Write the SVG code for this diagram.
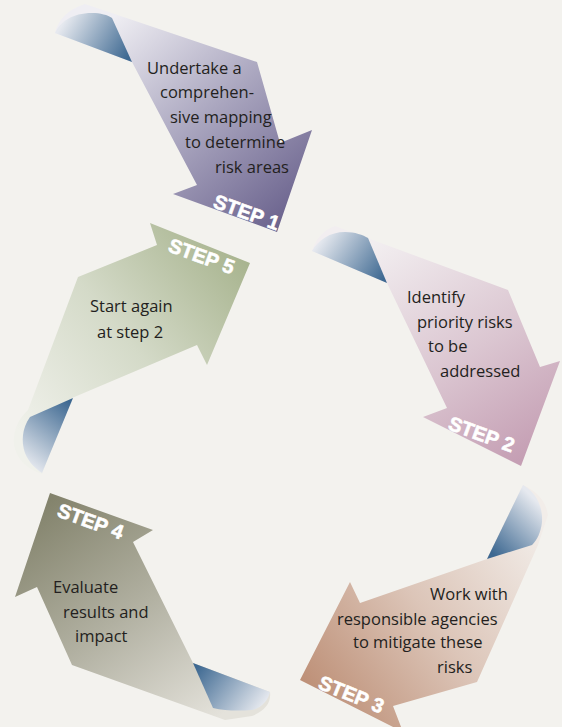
<svg xmlns="http://www.w3.org/2000/svg" width="562" height="727" viewBox="0 0 562 727">
<defs>
<style>
.body-text{font-family:"Open Sans","Liberation Sans",sans-serif;font-size:16.5px;fill:#231f20}
.step{font-family:"Liberation Sans","Open Sans",sans-serif;font-size:20px;font-weight:bold;fill:#ffffff;stroke:#ffffff;stroke-width:0.6}
</style>
<linearGradient id="g1" gradientUnits="userSpaceOnUse" x1="110" y1="20" x2="285" y2="225"><stop offset="0" stop-color="#efeef3"/><stop offset="0.5" stop-color="#aaa6bf"/><stop offset="1" stop-color="#6a628d"/></linearGradient>
<linearGradient id="g2" gradientUnits="userSpaceOnUse" x1="380" y1="240" x2="520" y2="460"><stop offset="0" stop-color="#f2eef0"/><stop offset="0.55" stop-color="#dbc6d1"/><stop offset="1" stop-color="#c59fb4"/></linearGradient>
<linearGradient id="g3" gradientUnits="userSpaceOnUse" x1="535" y1="520" x2="305" y2="690"><stop offset="0" stop-color="#f2ede9"/><stop offset="0.5" stop-color="#dcc5b8"/><stop offset="1" stop-color="#bd8f76"/></linearGradient>
<linearGradient id="g4" gradientUnits="userSpaceOnUse" x1="55" y1="495" x2="215" y2="720"><stop offset="0" stop-color="#83836c"/><stop offset="0.5" stop-color="#b1b0a1"/><stop offset="1" stop-color="#e4e2db"/></linearGradient>
<linearGradient id="g5" gradientUnits="userSpaceOnUse" x1="30" y1="445" x2="250" y2="265"><stop offset="0" stop-color="#f0f1eb"/><stop offset="0.5" stop-color="#d4dac8"/><stop offset="1" stop-color="#a8b48f"/></linearGradient>
<linearGradient id="c1" gradientUnits="userSpaceOnUse" x1="65" y1="20" x2="128" y2="58"><stop offset="0" stop-color="#e6e9ef"/><stop offset="1" stop-color="#3d6891"/></linearGradient>
<linearGradient id="c2" gradientUnits="userSpaceOnUse" x1="322" y1="238" x2="383" y2="280"><stop offset="0" stop-color="#e6e9ef"/><stop offset="1" stop-color="#3d6891"/></linearGradient>
<linearGradient id="c3" gradientUnits="userSpaceOnUse" x1="540" y1="505" x2="492" y2="553"><stop offset="0" stop-color="#e6e9ef"/><stop offset="1" stop-color="#3d6891"/></linearGradient>
<linearGradient id="c4" gradientUnits="userSpaceOnUse" x1="197" y1="666" x2="258" y2="712"><stop offset="0" stop-color="#3d6891"/><stop offset="1" stop-color="#e6e9ef"/></linearGradient>
<linearGradient id="c5" gradientUnits="userSpaceOnUse" x1="70" y1="402" x2="24" y2="462"><stop offset="0" stop-color="#3d6891"/><stop offset="1" stop-color="#e6e9ef"/></linearGradient>
</defs>
<rect width="562" height="727" fill="#f3f2ee"/>
<g id="connectors"/>
<g id="step1">
<path d="M55,33 Q60,12 85,4 L257,62 L280,143 L312,130 L277,232 L173,194 L197,185 L132,62 Z" fill="url(#g1)"/>
<path d="M55,33 C60,22 72,13 92,13 C100,13 108,15 112,18 L132,62 Z" fill="url(#c1)"/>
<text class="body-text" x="147" y="74">Undertake a</text>
<text class="body-text" x="160" y="98">comprehen-</text>
<text class="body-text" x="170" y="123">sive mapping</text>
<text class="body-text" x="185" y="148">to determine</text>
<text class="body-text" x="215" y="173">risk areas</text>
<text class="step" transform="translate(212,207) rotate(20)">STEP 1</text>
</g>
<g id="step2">
<path d="M312,251 Q318,232 335,226 L508,290 L540,367 L560,361 L521,466 L423,417 L447,408 L387,283 Z" fill="url(#g2)"/>
<path d="M312,251 C318,240 330,232 345,232 C355,232 363,235 368,238 L387,283 Z" fill="url(#c2)"/>
<text class="body-text" x="407" y="303">Identify</text>
<text class="body-text" x="417" y="328">priority risks</text>
<text class="body-text" x="428" y="352">to be</text>
<text class="body-text" x="440" y="377">addressed</text>
<text class="step" transform="translate(447,429) rotate(20)">STEP 2</text>
</g>
<g id="step3">
<path d="M300,680 L350,582 L360,603 L487,559 L523,485 Q545,495 548,515 L538,545 L477,682 L393,706 L403,732 Z" fill="url(#g3)"/>
<path d="M523,485 C535,492 543,505 542,522 C541,532 537,540 532,545 L487,559 Z" fill="url(#c3)"/>
<text class="body-text" x="430" y="600">Work with</text>
<text class="body-text" x="337" y="625">responsible agencies</text>
<text class="body-text" x="353" y="648">to mitigate these</text>
<text class="body-text" x="437" y="673">risks</text>
<text class="step" transform="translate(317,688) rotate(22)">STEP 3</text>
</g>
<g id="step4">
<path d="M50,493 L153,530 L133,542 L193,663 L270,692 Q272,708 252,716 L225,720 L72,665 L37,587 L15,597 Z" fill="url(#g4)"/>
<path d="M193,663 L270,692 C268,700 262,708 252,710 C240,711 225,711 213,708 Z" fill="url(#c4)"/>
<text class="body-text" x="53" y="593">Evaluate</text>
<text class="body-text" x="63" y="618">results and</text>
<text class="body-text" x="75" y="642">impact</text>
<text class="step" transform="translate(56,516) rotate(20)">STEP 4</text>
</g>
<g id="step5">
<path d="M250,263 L207,365 L197,345 L72,398 L42,474 Q18,466 14,445 Q12,425 28,410 L78,277 L157,245 L150,223 Z" fill="url(#g5)"/>
<path d="M73,398 L30,417 C22,428 21,442 25,453 C29,463 36,469 42,473 Z" fill="url(#c5)"/>
<text class="body-text" x="90" y="312">Start again</text>
<text class="body-text" x="97" y="338">at step 2</text>
<text class="step" transform="translate(167,251) rotate(20)">STEP 5</text>
</g>
</svg>
